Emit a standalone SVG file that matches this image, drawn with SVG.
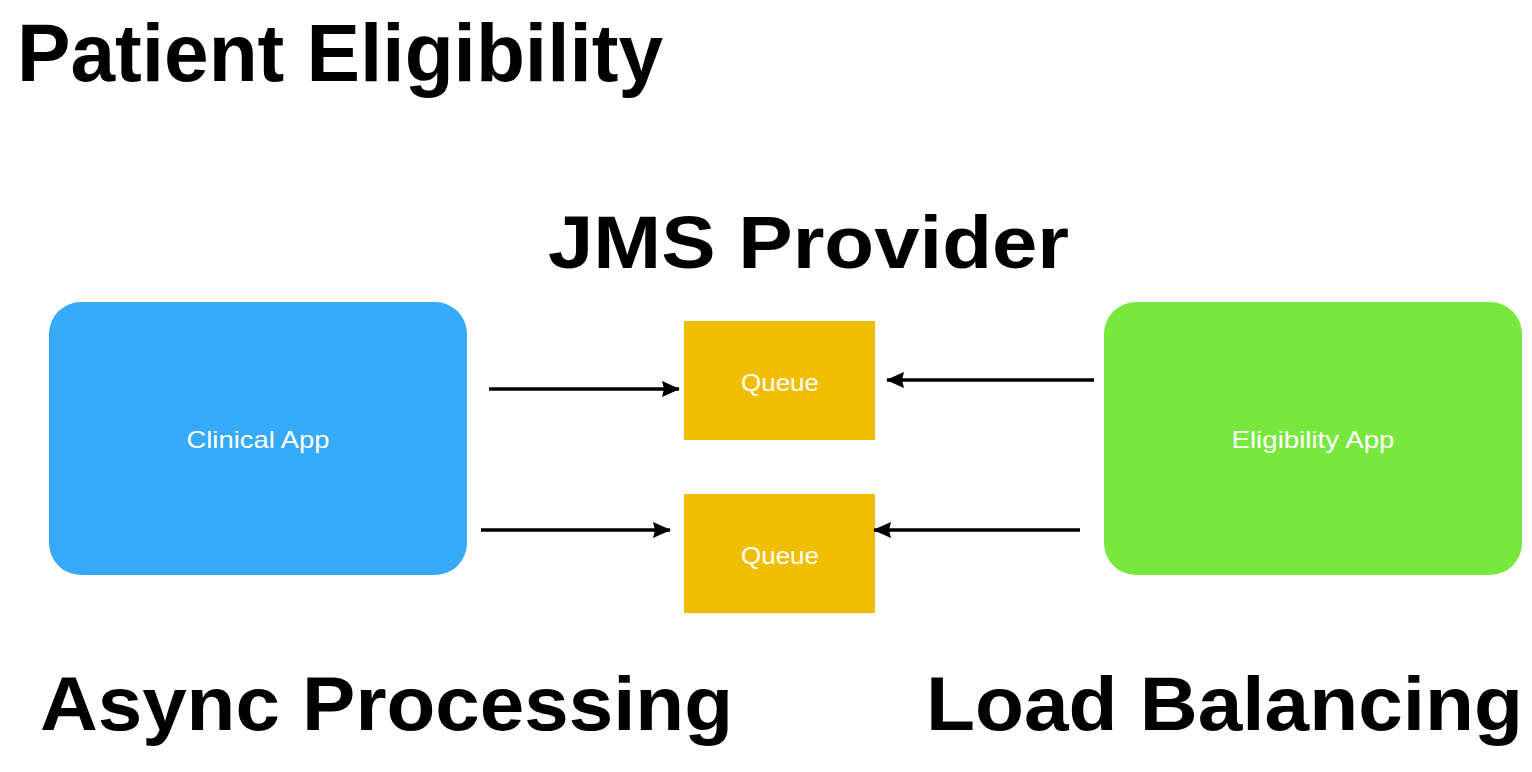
<svg xmlns="http://www.w3.org/2000/svg" width="1532" height="772" viewBox="0 0 1532 772">
<style>
.title{font-family:"Liberation Sans",Arial,Helvetica,sans-serif;font-weight:bold;fill:#000}
.lbl{font-family:"Liberation Sans",Arial,Helvetica,sans-serif;font-size:24px;fill:#fff;text-anchor:middle}
.conn{stroke:#000;stroke-width:3.5;fill:none;marker-end:url(#ah)}
</style>
<defs>
<marker id="ah" viewBox="0 0 18 18" refX="17" refY="9" markerWidth="18" markerHeight="18" markerUnits="userSpaceOnUse" orient="auto">
<path d="M0,1 L18,9 L0,17 L2,9 Z" fill="#000"/>
</marker>
</defs>
<rect width="1532" height="772" fill="#fff"/>
<text class="title" x="17" y="81" font-size="81" textLength="646" lengthAdjust="spacingAndGlyphs">Patient Eligibility</text>
<text class="title" x="548" y="268" font-size="75" textLength="521" lengthAdjust="spacingAndGlyphs">JMS Provider</text>
<text class="title" x="40" y="730" font-size="76" textLength="693" lengthAdjust="spacingAndGlyphs">Async Processing</text>
<text class="title" x="926" y="730" font-size="76" textLength="597" lengthAdjust="spacingAndGlyphs">Load Balancing</text>
<g id="clinical-app">
<rect x="49" y="302" width="418" height="273" rx="32" fill="#36a9f8"/>
<text class="lbl" x="258" y="448" textLength="143" lengthAdjust="spacingAndGlyphs">Clinical App</text>
</g>
<g id="eligibility-app">
<rect x="1104" y="302" width="418" height="273" rx="32" fill="#78e83f"/>
<text class="lbl" x="1313" y="448" textLength="163" lengthAdjust="spacingAndGlyphs">Eligibility App</text>
</g>
<g id="queue-1">
<rect x="684" y="321" width="191" height="119" fill="#efbe00"/>
<text class="lbl" x="780" y="391" textLength="78" lengthAdjust="spacingAndGlyphs">Queue</text>
</g>
<g id="queue-2">
<rect x="684" y="494" width="191" height="119" fill="#efbe00"/>
<text class="lbl" x="780" y="564" textLength="78" lengthAdjust="spacingAndGlyphs">Queue</text>
</g>
<g id="connectors">
<line class="conn" x1="489" y1="389" x2="679" y2="389"/>
<line class="conn" x1="481" y1="530" x2="670" y2="530"/>
<line class="conn" x1="1094" y1="380" x2="887" y2="380"/>
<line class="conn" x1="1080" y1="530" x2="874" y2="530"/>
</g>
</svg>
